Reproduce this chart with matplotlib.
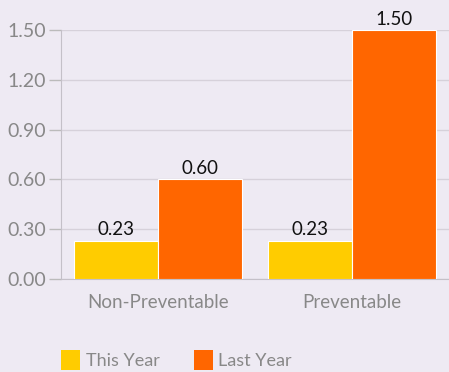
import matplotlib.pyplot as plt
import numpy as np

categories = ['Non-Preventable', 'Preventable']
this_year = [0.23, 0.23]
last_year = [0.60, 1.50]
yticks = [0.00, 0.30, 0.60, 0.90, 1.20, 1.50]

bg = '#EEEAF3'
plt.rcParams['font.family'] = ['Lato', 'DejaVu Sans']

fig = plt.figure(figsize=(4.49, 3.72), dpi=100, facecolor=bg)
ax = fig.add_axes([61 / 449, 1 - 279 / 372, 1 - 61 / 449, 249 / 372], facecolor=bg)

x = np.arange(len(categories))
w = 0.435
b1 = ax.bar(x - w / 2, this_year, w, color='#FFCC00', edgecolor='white', linewidth=0.8,
            label='This Year', zorder=3)
b2 = ax.bar(x + w / 2, last_year, w, color='#FF6600', edgecolor='white', linewidth=0.8,
            label='Last Year', zorder=3)

for bars, vals in ((b1, this_year), (b2, last_year)):
    for rect, v in zip(bars, vals):
        ax.text(rect.get_x() + rect.get_width() / 2, v + 0.015, f'{v:.2f}',
                ha='center', va='bottom', fontsize=13.5, color='#111111')

ax.set_xlim(-0.5, 1.5)
ax.set_ylim(0, 1.5)
ax.set_yticks(yticks)
ax.set_yticklabels([f'{t:.2f}' for t in yticks])
ax.set_xticks(x)
ax.set_xticklabels(categories)
ax.grid(axis='y', color='#D6D1DA', linewidth=1, zorder=0)
ax.tick_params(axis='y', colors='#BBBBBB', labelcolor='#888888', labelsize=14,
               length=9, width=1, pad=2)
ax.tick_params(axis='x', length=0, labelcolor='#888888', labelsize=13.5, pad=11)
for s in ['top', 'right']:
    ax.spines[s].set_visible(False)
ax.spines['left'].set_color('#C4C0C8')
ax.spines['bottom'].set_color('#C4C0C8')
ax.spines['left'].set_zorder(4)

leg = fig.legend(handles=[b1, b2], loc='center left', bbox_to_anchor=(54 / 449, 12 / 372),
                 ncol=2, frameon=False, fontsize=13, handlelength=1.05, handleheight=1.3,
                 handletextpad=0.3, columnspacing=1.9, borderaxespad=0)
for t in leg.get_texts():
    t.set_color('#888888')
for p in leg.get_patches():
    p.set_edgecolor('none')

fig.savefig('out.png', dpi=100, facecolor=bg)
